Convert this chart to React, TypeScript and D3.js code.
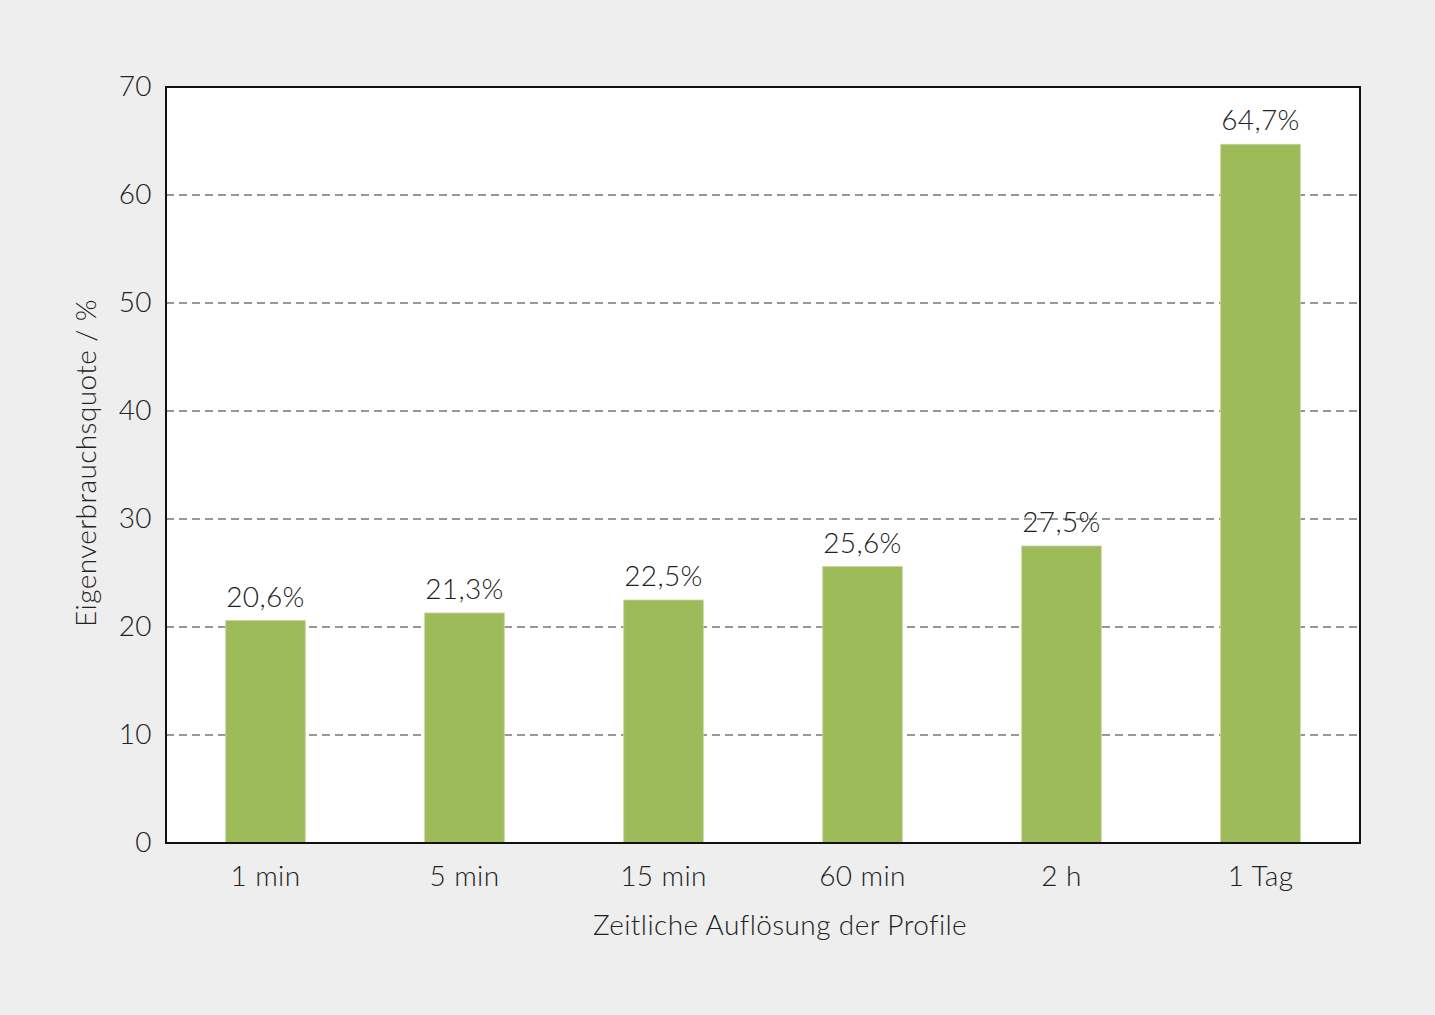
import { useEffect, useRef } from 'react';
import * as d3 from 'd3';

const categories = ['1 min', '5 min', '15 min', '60 min', '2 h', '1 Tag'];
const values = [20.6, 21.3, 22.5, 25.6, 27.5, 64.7];
const yTicks = [0, 10, 20, 30, 40, 50, 60, 70];

const fmt = (v: number) => v.toFixed(1).replace('.', ',') + '%';

export default function App() {
  const svgRef = useRef<SVGSVGElement>(null);

  useEffect(() => {
    if (!svgRef.current) return;
    const root = d3.select(svgRef.current);
    root.selectAll('*').remove();

    const W = 1435;
    const H = 1015;
    const margin = { top: 87, right: 75, bottom: 172, left: 166 };
    const width = W - margin.left - margin.right;
    const height = H - margin.top - margin.bottom;
    const font = "Lato, 'Liberation Sans', Arial, sans-serif";
    const weight = 300;
    const size = 28;
    const textColor = '#222';

    root.attr('width', W).attr('height', H).style('display', 'block');
    root.append('rect').attr('width', W).attr('height', H).attr('fill', '#eeeeee');

    const svg = root.append('g').attr('transform', `translate(${margin.left},${margin.top})`);

    const x = d3.scaleBand().domain(categories).range([0, width]).paddingInner(0.6).paddingOuter(0.3);
    const y = d3.scaleLinear().domain([0, 70]).range([height, 0]);

    // Plot background
    svg.append('rect').attr('width', width).attr('height', height).attr('fill', '#fff');

    // Grid lines
    svg.append('g')
      .selectAll('line')
      .data(yTicks.filter(t => t > 0 && t < 70))
      .enter()
      .append('line')
      .attr('x1', 0)
      .attr('x2', width)
      .attr('y1', d => y(d))
      .attr('y2', d => y(d))
      .attr('stroke', '#777')
      .attr('stroke-width', 1.3)
      .attr('stroke-dasharray', '8,5');

    // Bars
    svg.selectAll('.bar')
      .data(values)
      .enter()
      .append('rect')
      .attr('class', 'bar')
      .attr('x', (_, i) => x(categories[i]) || 0)
      .attr('y', d => y(d))
      .attr('width', x.bandwidth())
      .attr('height', d => height - y(d))
      .attr('fill', '#9dbb59')
      .attr('stroke', '#c5d7a0')
      .attr('stroke-width', 0.8);

    const label = (sel: any) =>
      sel.attr('font-family', font)
        .attr('font-weight', weight)
        .attr('font-size', size)
        .attr('letter-spacing', 0.4)
        .attr('fill', textColor);

    // Value labels
    svg.selectAll('.val')
      .data(values)
      .enter()
      .append('text')
      .attr('class', 'val')
      .attr('x', (_, i) => (x(categories[i]) || 0) + x.bandwidth() / 2)
      .attr('y', d => y(d) - 14)
      .attr('text-anchor', 'middle')
      .call(label)
      .text(d => fmt(d));

    // Frame
    svg.append('rect')
      .attr('width', width)
      .attr('height', height)
      .attr('fill', 'none')
      .attr('stroke', '#111')
      .attr('stroke-width', 2);

    // Y tick labels
    svg.append('g')
      .selectAll('text')
      .data(yTicks)
      .enter()
      .append('text')
      .attr('x', -14)
      .attr('y', d => y(d) + 9)
      .attr('text-anchor', 'end')
      .call(label)
      .text(d => d);

    // X tick labels
    svg.append('g')
      .selectAll('text')
      .data(categories)
      .enter()
      .append('text')
      .attr('x', d => (x(d) || 0) + x.bandwidth() / 2)
      .attr('y', height + 43)
      .attr('text-anchor', 'middle')
      .call(label)
      .text(d => d);

    // Axis titles
    svg.append('text')
      .attr('x', width / 2 + 17)
      .attr('y', height + 92)
      .attr('text-anchor', 'middle')
      .call(label)
      .text('Zeitliche Auflösung der Profile');

    svg.append('text')
      .attr('transform', 'rotate(-90)')
      .attr('x', -height / 2 + 2)
      .attr('y', -70)
      .attr('text-anchor', 'middle')
      .call(label)
      .text('Eigenverbrauchsquote / %');
  }, []);

  return (
    <div style={{ position: 'absolute', left: 0, top: 0 }}>
      <svg ref={svgRef} />
    </div>
  );
}
